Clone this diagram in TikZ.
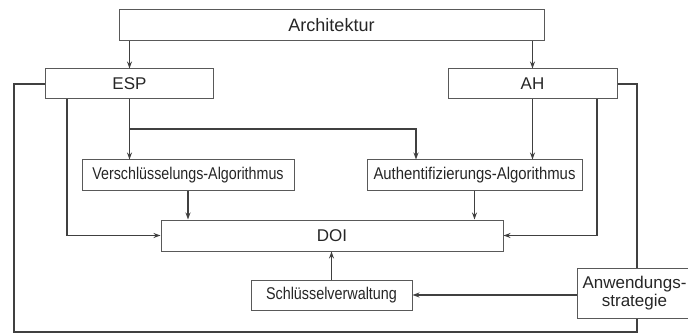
\documentclass[tikz,border=0pt]{standalone}
\usepackage{fontspec}
\setmainfont{Liberation Sans}
\usetikzlibrary{arrows.meta}
\begin{document}
\begin{tikzpicture}[x=1pt,y=-1pt,
  box/.style={draw=black!65, line width=1pt, inner sep=0pt, text=black!85, font=\fontsize{17}{18}\selectfont},
  conn/.style={draw=black!75, line width=1.5pt},
  arr/.style={conn, -{Stealth[length=7pt,width=5pt]}}]
\useasboundingbox (0,0) rectangle (688,334);
\node[box, minimum width=425pt, minimum height=31pt, font=\fontsize{18}{19}\selectfont] (arch) at (331.5,25.5) {Architektur};
\node[box, minimum width=168pt, minimum height=30pt] (esp) at (129.5,84) {ESP};
\node[box, minimum width=169pt, minimum height=30pt] (ah) at (532.5,84) {AH};
\node[box, minimum width=212pt, minimum height=30pt] (ver) at (188,175) {\scalebox{0.84}[1]{Verschlüsselungs-Algorithmus}};
\node[box, minimum width=215pt, minimum height=30pt] (aut) at (474.5,175) {\scalebox{0.876}[1]{Authentifizierungs-Algorithmus}};
\node[box, minimum width=342pt, minimum height=31pt] (doi) at (332,235.5) {DOI};
\node[box, minimum width=161pt, minimum height=30pt] (sch) at (331.5,295) {\scalebox{0.845}[1]{Schlüsselverwaltung}};
\node[box, align=center, minimum width=115pt, minimum height=50pt] (anw) at (634.5,293) {Anwendungs-\\strategie};
\coordinate (bl) at (14,332);
\coordinate (br) at (637,332);
\coordinate (e1) at (67,0);
\coordinate (br1) at (129.5,129);
\coordinate (e3) at (416,0);
\coordinate (e4) at (597,0);
\draw[arr] (arch.south -| esp.north) -- (esp.north);
\draw[arr] (arch.south -| ah.north) -- (ah.north);
\draw[conn] (esp.west) -| (bl) -- (br) -- (br |- anw.south);
\draw[conn] (ah.east) -| (br |- anw.north);
\draw[arr] (esp.south -| e1) |- (doi.west);
\draw[arr] (esp.south) -- (esp.south |- ver.north);
\draw[arr] (br1) -| (e3 |- aut.north);
\draw[arr] (ah.south) -- (ah.south |- aut.north);
\draw[arr] (ah.south -| e4) |- (doi.east);
\draw[arr] (ver.south) -- (ver.south |- doi.north);
\draw[arr] (aut.south) -- (aut.south |- doi.north);
\draw[arr] (sch.north) -- (sch.north |- doi.south);
\draw[arr] (anw.west |- sch.east) -- (sch.east);
\end{tikzpicture}
\end{document}
